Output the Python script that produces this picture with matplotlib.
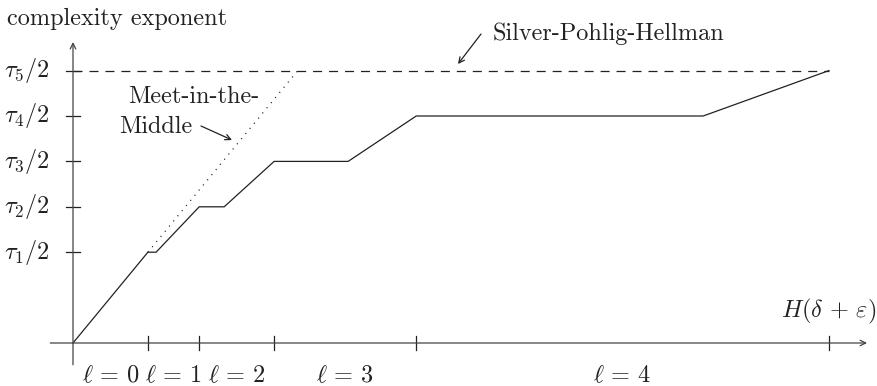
import matplotlib
matplotlib.use("Agg")
import matplotlib.pyplot as plt

plt.rcParams['font.family'] = 'serif'
plt.rcParams['font.serif'] = ['cmr10']
plt.rcParams['mathtext.fontset'] = 'cm'
plt.rcParams['axes.unicode_minus'] = False
plt.rcParams['lines.scale_dashes'] = False

# ---- data (units: 1 unit = one tau-level step) ----
boundaries = [1.65, 2.78, 4.43, 7.56, 16.65]          # x tick positions (ends of l-ranges)
region_labels = [r'$\ell\,=\,0$', r'$\ell\,=\,1$', r'$\ell\,=\,2$', r'$\ell\,=\,3$', r'$\ell\,=\,4$']
tau_levels = [2, 3, 4, 5, 6]
tau_labels = [r'$\tau_1/2$', r'$\tau_2/2$', r'$\tau_3/2$', r'$\tau_4/2$', r'$\tau_5/2$']
curve_x = [0, 1.65, 1.83, 2.78, 3.33, 4.43, 6.06, 7.56, 13.88, 16.65]
curve_y = [0, 2, 2, 3, 3, 4, 4, 5, 5, 6]
mitm_x = [1.65, 4.95]
mitm_y = [2, 6]
sph_x = [0, 16.65]
sph_y = [6, 6]

u = 45.4
fig = plt.figure(figsize=(8.77, 3.86), dpi=100)
ax = fig.add_axes([0, 0, 1, 1])
ax.set_xlim(-73 / u, (877 - 73) / u)
ax.set_ylim(-(386 - 343) / u, 343 / u)
ax.axis('off')

fs = 17.5
lw = 0.9
col = '#222222'

# axes with arrows
ax.annotate('', xy=(17.49, 0), xytext=(-0.5, 0),
            arrowprops=dict(arrowstyle='->', lw=lw, color='#444444', shrinkA=0, shrinkB=0, mutation_scale=10))
ax.annotate('', xy=(0, 6.63), xytext=(0, -0.48),
            arrowprops=dict(arrowstyle='->', lw=lw, color='#444444', shrinkA=0, shrinkB=0, mutation_scale=10))

t = 0.154
for xb in boundaries:
    ax.plot([xb, xb], [-t, t], color=col, lw=lw)
for yl in tau_levels:
    ax.plot([-t, t], [yl, yl], color=col, lw=lw)

# curves
ax.plot(curve_x, curve_y, color=col, lw=lw, solid_joinstyle='miter')
ax.plot(mitm_x, mitm_y, color=col, lw=lw, dashes=(0.8, 4.0))
ax.plot(sph_x, sph_y, color=col, lw=lw, dashes=(6.5, 5.0))

# tick labels
for yl, lab in zip(tau_levels, tau_labels):
    ax.text(-0.507, yl, lab, ha='right', va='center', fontsize=fs, color=col)
starts = [0] + boundaries[:-1]
for a, b, lab in zip(starts, boundaries, region_labels):
    ax.text((a + b) / 2, -0.859, lab, ha='center', va='baseline', fontsize=fs, color=col)

ax.text(-1.454, 7.004, 'complexity exponent', ha='left', va='baseline', fontsize=fs, color=col)
ax.text(16.65, 0.573, r'$H(\delta\,+\,\varepsilon)$', ha='center', va='baseline', fontsize=fs, color=col)

ax.text(9.25, 6.674, 'Silver-Pohlig-Hellman', ha='left', va='baseline', fontsize=fs, color=col)
ax.annotate('', xy=(8.480, 6.145), xytext=(8.987, 6.806),
            arrowprops=dict(arrowstyle='->', lw=lw, color=col, shrinkA=0, shrinkB=0, mutation_scale=10))

ax.text(1.211, 5.286, 'Meet-in-the-', ha='left', va='baseline', fontsize=fs, color=col)
ax.text(1.013, 4.626, 'Middle', ha='left', va='baseline', fontsize=fs, color=col)
ax.annotate('', xy=(3.502, 4.471), xytext=(2.819, 4.780),
            arrowprops=dict(arrowstyle='->', lw=lw, color=col, shrinkA=0, shrinkB=0, mutation_scale=10))

fig.savefig('out.png', dpi=100)
